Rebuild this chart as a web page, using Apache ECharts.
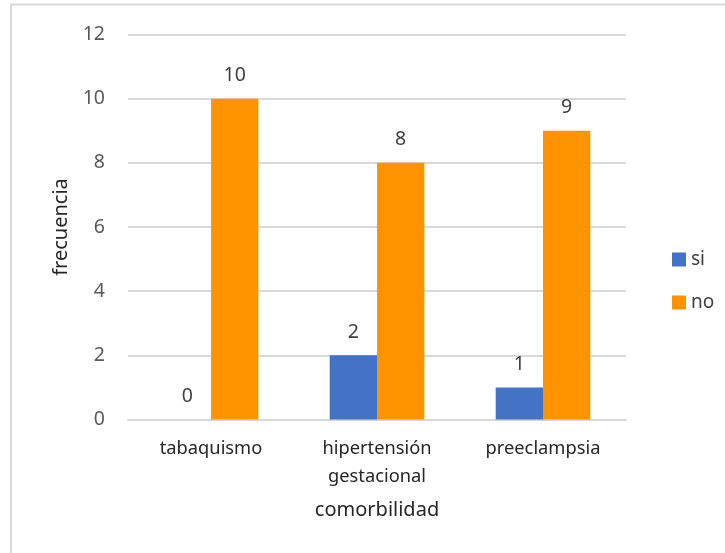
<!DOCTYPE html>
<html>
<head>
<meta charset="utf-8">
<script src="https://cdn.jsdelivr.net/npm/echarts@6/dist/echarts.min.js"></script>
<style>
  html, body { margin: 0; padding: 0; background: #ffffff; }
  #chart { width: 725px; height: 553px; }
</style>
</head>
<body>
<div id="chart"></div>
<script>
// Comorbidities and how often each was present (si) or absent (no)
const categories = ['tabaquismo', 'hipertensión\ngestacional', 'preeclampsia'];
const siValues = [0, 2, 1];
const noValues = [10, 8, 9];
const seriesNames = ['si', 'no'];
const yTicks = { min: 0, max: 12, interval: 2 };

const FONT = '"Noto Sans", "Open Sans", sans-serif';

const chart = echarts.init(document.getElementById('chart'), null, { renderer: 'canvas' });

const labelStyle = {
  show: true,
  position: 'top',
  distance: 13,
  fontFamily: FONT,
  fontSize: 19.5,
  color: '#404040'
};

chart.setOption({
  animation: false,
  backgroundColor: '#ffffff',
  textStyle: { fontFamily: FONT },
  graphic: [{
    type: 'rect',
    silent: true,
    shape: { x: 11, y: 4.5, width: 800, height: 700 },
    style: { fill: 'none', stroke: '#d9d9d9', lineWidth: 2 }
  }],
  grid: { left: 128, right: 99, top: 34.5, bottom: 133.5, containLabel: false },
  legend: {
    orient: 'vertical',
    left: 667,
    top: 245,
    icon: 'rect',
    itemWidth: 14,
    itemHeight: 14,
    itemGap: 24,
    data: seriesNames,
    textStyle: { fontFamily: FONT, fontSize: 19, color: '#404040' }
  },
  xAxis: {
    type: 'category',
    data: categories,
    name: 'comorbilidad',
    nameLocation: 'middle',
    nameGap: 81,
    nameTextStyle: { fontFamily: FONT, fontSize: 20, color: '#262626' },
    axisLine: { lineStyle: { color: '#d9d9d9', width: 2 } },
    axisTick: { show: false },
    axisLabel: {
      margin: 15,
      fontFamily: FONT,
      fontSize: 18.3,
      lineHeight: 28,
      color: '#262626'
    }
  },
  yAxis: {
    type: 'value',
    min: yTicks.min,
    max: yTicks.max,
    interval: yTicks.interval,
    name: 'frecuencia',
    nameLocation: 'middle',
    nameGap: 55,
    nameRotate: 90,
    nameTextStyle: { fontFamily: FONT, fontSize: 20, color: '#262626' },
    axisLine: { show: false },
    axisTick: { show: false },
    axisLabel: { margin: 23, fontFamily: FONT, fontSize: 19.5, color: '#595959' },
    splitLine: { lineStyle: { color: '#d9d9d9', width: 2 } }
  },
  series: [
    {
      name: seriesNames[0],
      type: 'bar',
      data: siValues,
      barGap: '0%',
      barCategoryGap: '43%',
      itemStyle: { color: '#4472C4' },
      label: labelStyle
    },
    {
      name: seriesNames[1],
      type: 'bar',
      data: noValues,
      barGap: '0%',
      barCategoryGap: '43%',
      itemStyle: { color: '#FF9300' },
      label: labelStyle
    }
  ]
});
</script>
</body>
</html>
